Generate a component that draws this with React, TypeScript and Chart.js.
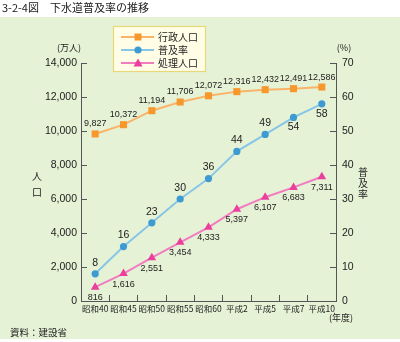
import React, { useEffect, useRef } from "react";
import { Chart, registerables } from "chart.js";

Chart.register(...registerables);

const categories = ["昭和40", "昭和45", "昭和50", "昭和55", "昭和60", "平成2", "平成5", "平成7", "平成10"];
const gyoseiJinko = [9827, 10372, 11194, 11706, 12072, 12316, 12432, 12491, 12586];
const fukyuRitsu = [8, 16, 23, 30, 36, 44, 49, 54, 58];
const shoriJinko = [816, 1616, 2551, 3454, 4333, 5397, 6107, 6683, 7311];
const fukyuLabelPos = ["above", "above", "above", "above", "above", "above", "above", "below", "below"];
const seriesNames = ["行政人口", "普及率", "処理人口"];

const CJK = '"Noto Sans CJK JP", sans-serif';
const NUM = '"Liberation Sans", Arial, sans-serif';

const ORANGE_LINE = "#f9b46a";
const ORANGE_PT = "#f7982c";
const BLUE_LINE = "#86c6e6";
const BLUE_PT = "#3e9bd2";
const PINK_LINE = "#f27cc0";
const PINK_PT = "#ea3f9c";
const BG = "#e6f2d6";

const fmt = (v: number) => v.toLocaleString("en-US");

const decorPlugin = {
  id: "decor",
  beforeDraw(chart: any) {
    const ctx = chart.ctx;
    ctx.save();
    ctx.fillStyle = "#ffffff";
    ctx.fillRect(0, 0, chart.width, chart.height);
    ctx.fillStyle = BG;
    ctx.fillRect(0, 17, chart.width, 322);
    ctx.restore();
  },
  afterDraw(chart: any) {
    const ctx = chart.ctx;
    ctx.save();
    ctx.fillStyle = "#222";
    ctx.textBaseline = "middle";
    ctx.font = `11px ${CJK}`;
    ctx.textAlign = "left";
    ctx.fillText("3-2-4図　下水道普及率の推移", 2, 8);
    ctx.font = `9.5px ${CJK}`;
    ctx.fillText("資料：建設省", 10, 332);
    ctx.font = `9px ${CJK}`;
    ctx.textAlign = "center";
    ctx.fillText("(万人)", 69, 48);
    ctx.fillText("(%)", 344, 48);
    ctx.fillText("(年度)", 341, 318);
    ctx.font = `10px ${CJK}`;
    ctx.fillText("人", 37, 176);
    ctx.fillText("口", 37, 192);
    ctx.fillText("普", 363, 172);
    ctx.fillText("及", 363, 183);
    ctx.fillText("率", 363, 194);

    ctx.fillStyle = "#fffde6";
    ctx.strokeStyle = "#e8d878";
    ctx.lineWidth = 1.2;
    ctx.fillRect(113.5, 26.5, 92, 45);
    ctx.strokeRect(113.5, 26.5, 92, 45);
    const rows = [37, 50, 63];
    const lineCols = [ORANGE_LINE, BLUE_LINE, PINK_LINE];
    const ptCols = [ORANGE_PT, BLUE_PT, PINK_PT];
    rows.forEach((y, i) => {
      ctx.strokeStyle = lineCols[i];
      ctx.lineWidth = 2;
      ctx.beginPath();
      ctx.moveTo(121, y);
      ctx.lineTo(154, y);
      ctx.stroke();
      ctx.fillStyle = ptCols[i];
      ctx.beginPath();
      if (i === 0) {
        ctx.rect(134.5, y - 3.5, 7, 7);
      } else if (i === 1) {
        ctx.arc(138, y, 3.6, 0, Math.PI * 2);
      } else {
        ctx.moveTo(138, y - 4.5);
        ctx.lineTo(142.5, y + 3.5);
        ctx.lineTo(133.5, y + 3.5);
        ctx.closePath();
      }
      ctx.fill();
      ctx.fillStyle = "#222";
      ctx.font = `10px ${CJK}`;
      ctx.textAlign = "left";
      ctx.fillText(seriesNames[i], 158, y);
    });
    ctx.restore();
  },
  afterDatasetsDraw(chart: any) {
    const ctx = chart.ctx;
    ctx.save();
    ctx.fillStyle = "#222";
    ctx.textAlign = "center";
    ctx.textBaseline = "middle";
    chart.data.datasets.forEach((ds: any, di: number) => {
      const meta = chart.getDatasetMeta(di);
      meta.data.forEach((pt: any, i: number) => {
        const v = ds.data[i];
        let dy = 0;
        if (di === 0) {
          ctx.font = `9px ${NUM}`;
          dy = -10;
        } else if (di === 1) {
          ctx.font = `10.5px ${NUM}`;
          dy = fukyuLabelPos[i] === "above" ? -11 : 10;
        } else {
          ctx.font = `9px ${NUM}`;
          dy = 10.5;
        }
        ctx.fillText(fmt(v), pt.x, pt.y + dy);
      });
    });
    ctx.restore();
  },
};

export default function App() {
  const ref = useRef<HTMLCanvasElement | null>(null);
  useEffect(() => {
    document.body.style.margin = "0";
    const canvas = ref.current!;
    const chart = new Chart(canvas, {
      type: "line",
      data: {
        labels: categories,
        datasets: [
          {
            label: seriesNames[0],
            data: gyoseiJinko,
            yAxisID: "y",
            borderColor: ORANGE_LINE,
            backgroundColor: ORANGE_PT,
            pointBackgroundColor: ORANGE_PT,
            pointBorderColor: ORANGE_PT,
            pointBorderWidth: 0,
            pointStyle: "rect",
            pointRadius: 5,
            borderWidth: 2,
            tension: 0,
          },
          {
            label: seriesNames[1],
            data: fukyuRitsu,
            yAxisID: "y1",
            borderColor: BLUE_LINE,
            backgroundColor: BLUE_PT,
            pointBackgroundColor: BLUE_PT,
            pointBorderColor: BLUE_PT,
            pointBorderWidth: 0,
            pointStyle: "circle",
            pointRadius: 3.6,
            borderWidth: 2,
            tension: 0,
          },
          {
            label: seriesNames[2],
            data: shoriJinko,
            yAxisID: "y",
            borderColor: PINK_LINE,
            backgroundColor: PINK_PT,
            pointBackgroundColor: PINK_PT,
            pointBorderColor: PINK_PT,
            pointBorderWidth: 0,
            pointStyle: "triangle",
            pointRadius: 5,
            borderWidth: 2,
            tension: 0,
          },
        ],
      },
      options: {
        responsive: false,
        animation: false,
        devicePixelRatio: 1,
        layout: { padding: { top: 63, left: 0, right: 0, bottom: 0 } },
        plugins: {
          legend: { display: false },
          tooltip: { enabled: false },
        },
        scales: {
          x: {
            type: "category",
            offset: true,
            border: { display: true, color: "#555", width: 1 },
            grid: { display: true, offset: true, drawOnChartArea: false, drawTicks: true, tickLength: -6, color: "#555" },
            ticks: {
              autoSkip: false,
              maxRotation: 0,
              minRotation: 0,
              padding: 9,
              color: "#222",
              font: { family: CJK, size: 8.5 },
            },
            afterFit(scale: any) {
              scale.height = 41;
            },
          },
          y: {
            position: "left",
            min: 0,
            max: 14000,
            border: { display: true, color: "#555", width: 1 },
            grid: { display: true, drawOnChartArea: false, drawTicks: true, tickLength: -6, color: "#555" },
            ticks: {
              stepSize: 2000,
              padding: 10,
              color: "#222",
              font: { family: NUM, size: 10.5 },
              callback: (v: any) => fmt(Number(v)),
            },
            afterFit(scale: any) {
              scale.width = 81;
            },
          },
          y1: {
            position: "right",
            min: 0,
            max: 70,
            border: { display: true, color: "#555", width: 1 },
            grid: { display: true, drawOnChartArea: false, drawTicks: true, tickLength: -6, color: "#555" },
            ticks: {
              stepSize: 10,
              padding: 12,
              color: "#222",
              font: { family: NUM, size: 10.5 },
            },
            afterFit(scale: any) {
              scale.width = 64;
            },
          },
        },
      } as any,
      plugins: [decorPlugin],
    });
    return () => chart.destroy();
  }, []);
  return (
    <div style={{ width: 400, height: 342 }}>
      <canvas ref={ref} width={400} height={342} style={{ display: "block" }} />
    </div>
  );
}
